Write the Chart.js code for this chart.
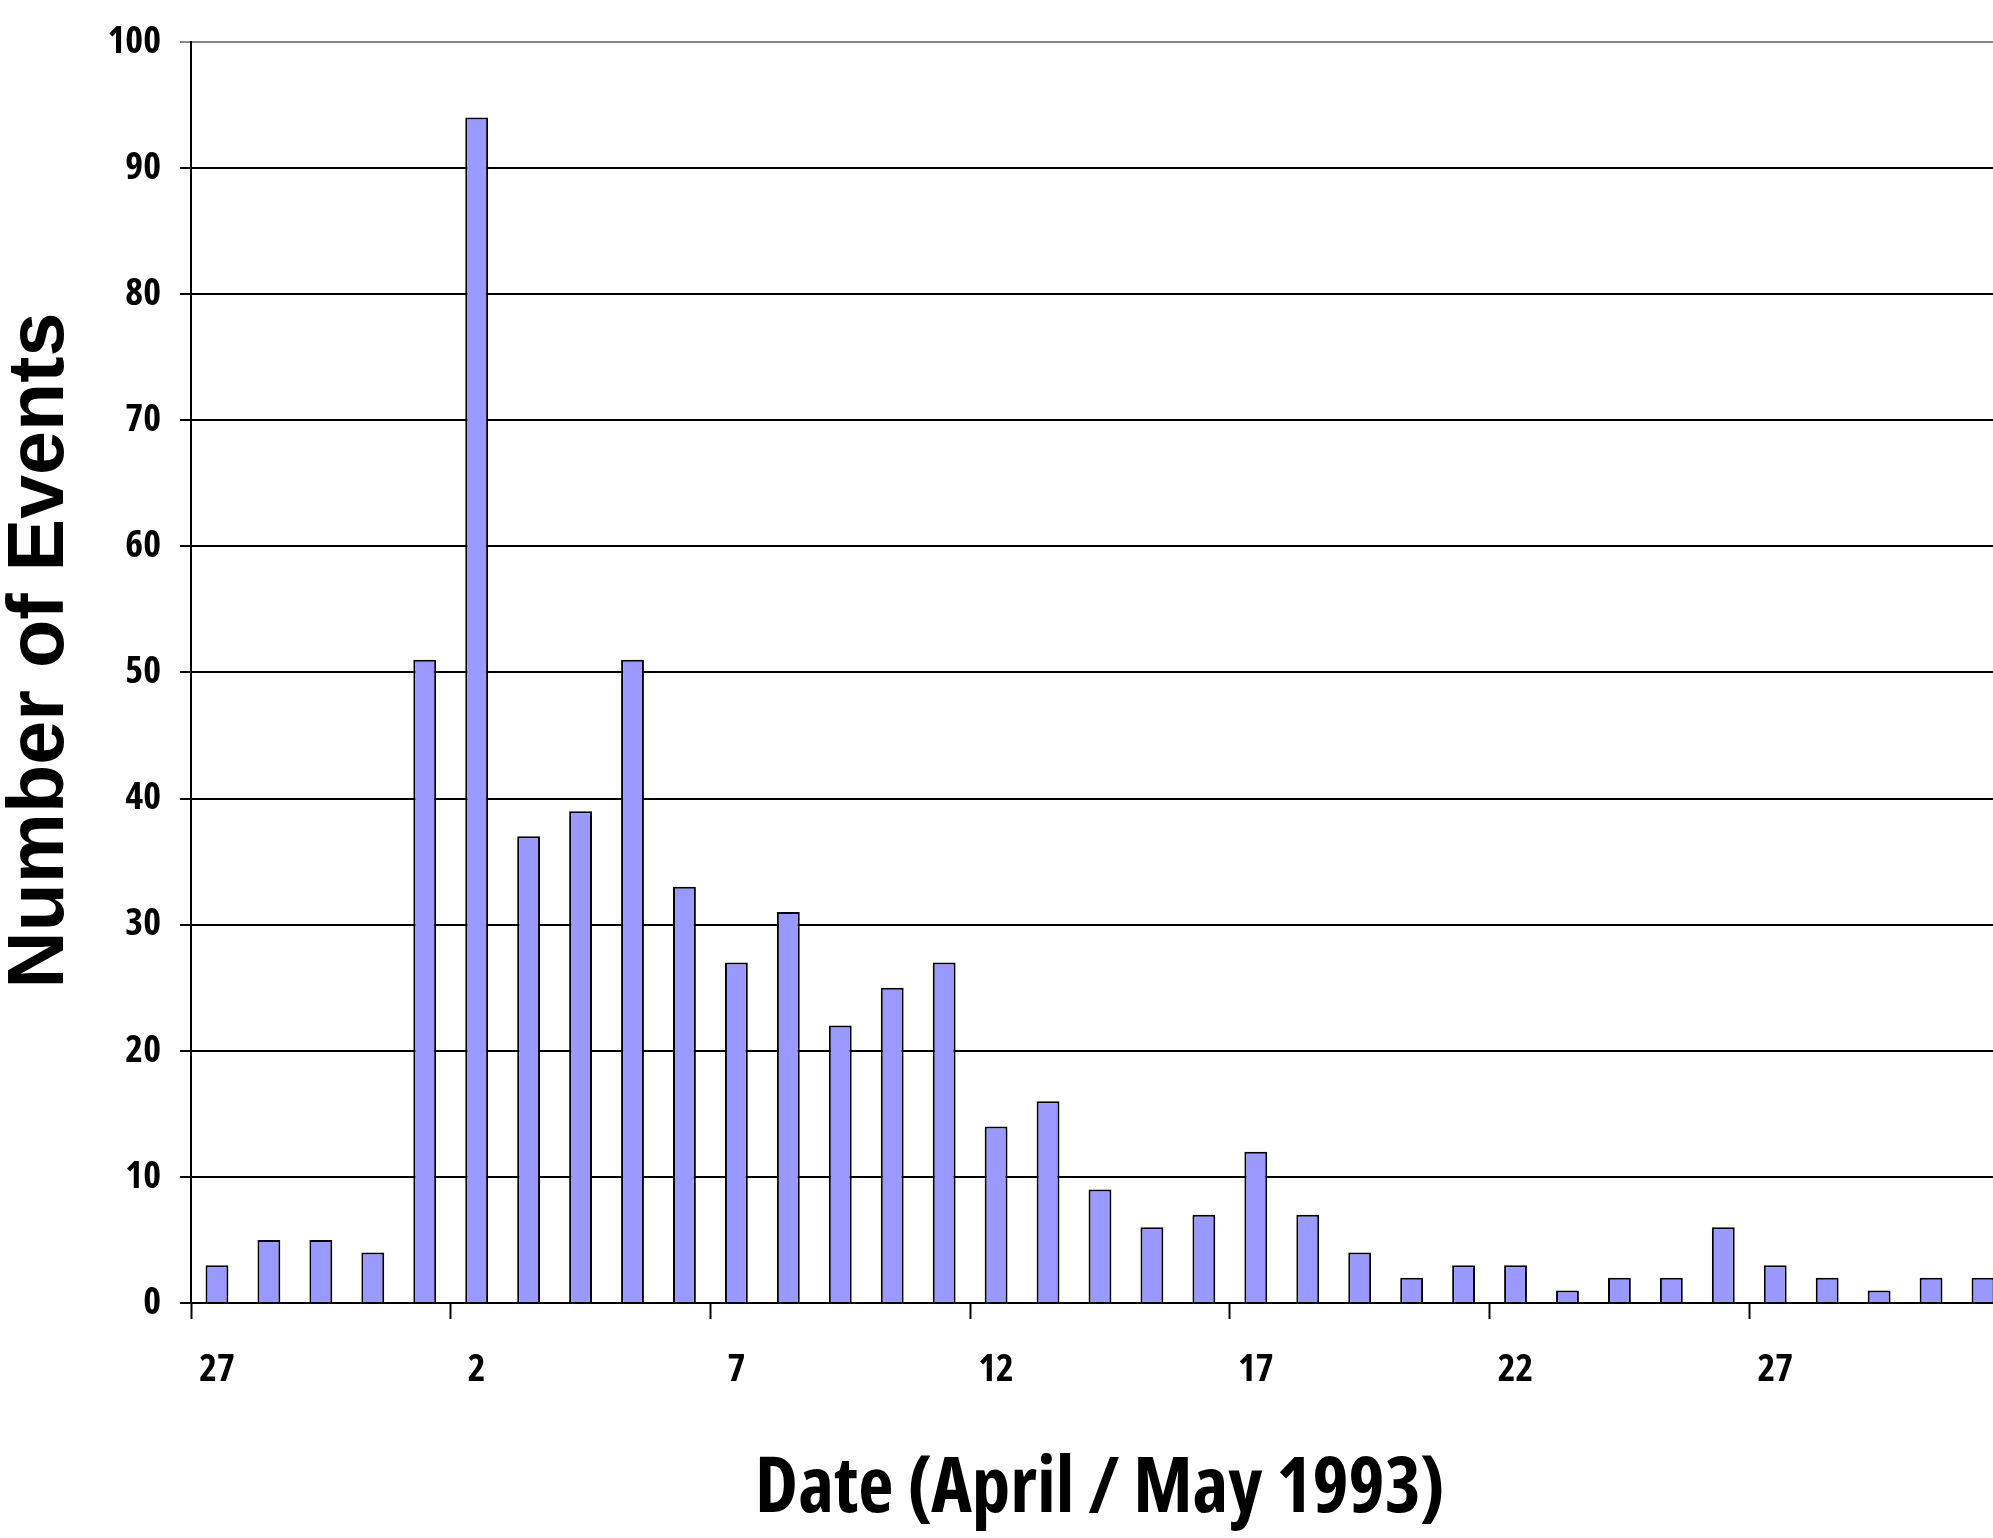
<!DOCTYPE html>
<html>
<head>
<meta charset="utf-8">
<script src="https://cdn.jsdelivr.net/npm/chart.js@4.4.0/dist/chart.umd.min.js"></script>
<style>
  html, body { margin: 0; padding: 0; background: #fff; overflow: hidden; }
  /* plot runs a little past the right edge, like the cropped original */
  .chart-size { position: relative; width: 2011px; height: 1538px; }
</style>
</head>
<body>
<div class="chart-size"><canvas id="chart"></canvas></div>
<script>
// days from 27 April to 31 May 1993
const days = ['27', '28', '29', '30',
    '1', '2', '3', '4', '5', '6', '7', '8', '9', '10',
    '11', '12', '13', '14', '15', '16', '17', '18', '19', '20',
    '21', '22', '23', '24', '25', '26', '27', '28', '29', '30', '31'];
const events = [3, 5, 5, 4,
    51, 94, 37, 39, 51, 33, 27, 31, 22, 25,
    27, 14, 16, 9, 6, 7, 12, 7, 4, 2,
    3, 3, 1, 2, 2, 6, 3, 2, 1, 2, 2];
const labelEvery = 5;
const yMin = 0;
const yMax = 100;
const yStep = 10;

const xTitle = 'Date (April / May 1993)';
// leading spaces nudge the centred, rotated title up a little, as in the original
const yTitle = '  Number of Events';

// the original uses a narrow face for the horizontal texts; pick the closest one installed
const probe = document.createElement('canvas').getContext('2d');
function measure(weight, family, text) {
    probe.font = weight + ' 100px ' + family;
    const m = probe.measureText(text);
    return { w: m.width, h: m.actualBoundingBoxAscent };
}
const candidates = [
    { weight: 'bold', family: "'Liberation Sans Narrow'" },
    { weight: 'bold', family: "'Noto Sans Condensed'" },
    { weight: 'bold', family: "'Noto Sans SemiCondensed'" },
    { weight: 'bold', family: "'Noto Sans ExtraCondensed'" },
    { weight: 'condensed bold', family: "'Noto Sans'" },
    { weight: 'condensed bold', family: "'Open Sans'" },
    { weight: 'bold', family: "'DejaVu Sans Condensed'" },
    { weight: 'bold', family: "'Liberation Sans'" }
];
const fallbackW = measure('bold', 'monospace', xTitle).w;
let narrow = candidates[candidates.length - 1];
let bestDiff = Infinity;
candidates.forEach((c) => {
    const m = measure(c.weight, c.family + ', monospace', xTitle);
    if (Math.abs(m.w - fallbackW) < 0.5) return;
    const cap = measure(c.weight, c.family + ', monospace', 'D').h;
    const diff = Math.abs(m.w / cap - 686 / 60);
    if (diff < bestDiff) { bestDiff = diff; narrow = c; }
});
const narrowFamily = narrow.family + ", 'Liberation Sans', sans-serif";
const titleSize = Math.round(100 * 686 / measure(narrow.weight, narrowFamily, xTitle).w);
const tickSize = Math.round(100 * 53 / measure(narrow.weight, narrowFamily, '100').w);

const ctx = document.getElementById('chart').getContext('2d');
new Chart(ctx, {
    type: 'bar',
    data: {
        labels: days,
        datasets: [{
            data: events,
            backgroundColor: '#9999ff',
            borderColor: '#000',
            borderWidth: 2,
            barPercentage: 0.44,
            categoryPercentage: 1
        }]
    },
    options: {
        responsive: true,
        maintainAspectRatio: false,
        animation: false,
        devicePixelRatio: 1,
        layout: { padding: { top: 34, right: 0, bottom: 0, left: 0 } },
        plugins: {
            legend: { display: false },
            tooltip: { enabled: false }
        },
        scales: {
            x: {
                offset: true,
                grid: {
                    offset: true,
                    drawOnChartArea: false,
                    tickLength: 16,
                    tickWidth: 2,
                    tickColor: (c) => c.index % labelEvery === 0 ? '#000' : 'rgba(0,0,0,0)'
                },
                border: { color: '#000', width: 2 },
                ticks: {
                    autoSkip: false,
                    maxRotation: 0,
                    padding: 28,
                    color: '#000',
                    font: { family: narrowFamily, size: tickSize, weight: narrow.weight },
                    callback: (v, i) => i % labelEvery === 0 ? days[i] : ''
                },
                title: {
                    display: true,
                    text: xTitle,
                    color: '#000',
                    font: { family: narrowFamily, size: titleSize, weight: narrow.weight, lineHeight: 1 },
                    padding: { top: 0, bottom: 9 }
                },
                afterFit: (scale) => { scale.height = 235; }
            },
            y: {
                min: yMin,
                max: yMax,
                grid: {
                    color: (c) => c.tick && c.tick.value === yMax ? '#888' : '#000',
                    lineWidth: 2,
                    tickLength: 11
                },
                border: { color: '#000', width: 2 },
                ticks: {
                    stepSize: yStep,
                    padding: 19,
                    color: '#000',
                    font: { family: narrowFamily, size: tickSize, weight: narrow.weight }
                },
                title: {
                    display: true,
                    text: yTitle,
                    color: '#000',
                    font: { family: "'Liberation Sans', Arial, sans-serif", size: 79, weight: 'bold', lineHeight: 1 },
                    padding: { top: 2, bottom: 0 }
                },
                afterFit: (scale) => { scale.width = 191; }
            }
        }
    }
});
</script>
</body>
</html>
